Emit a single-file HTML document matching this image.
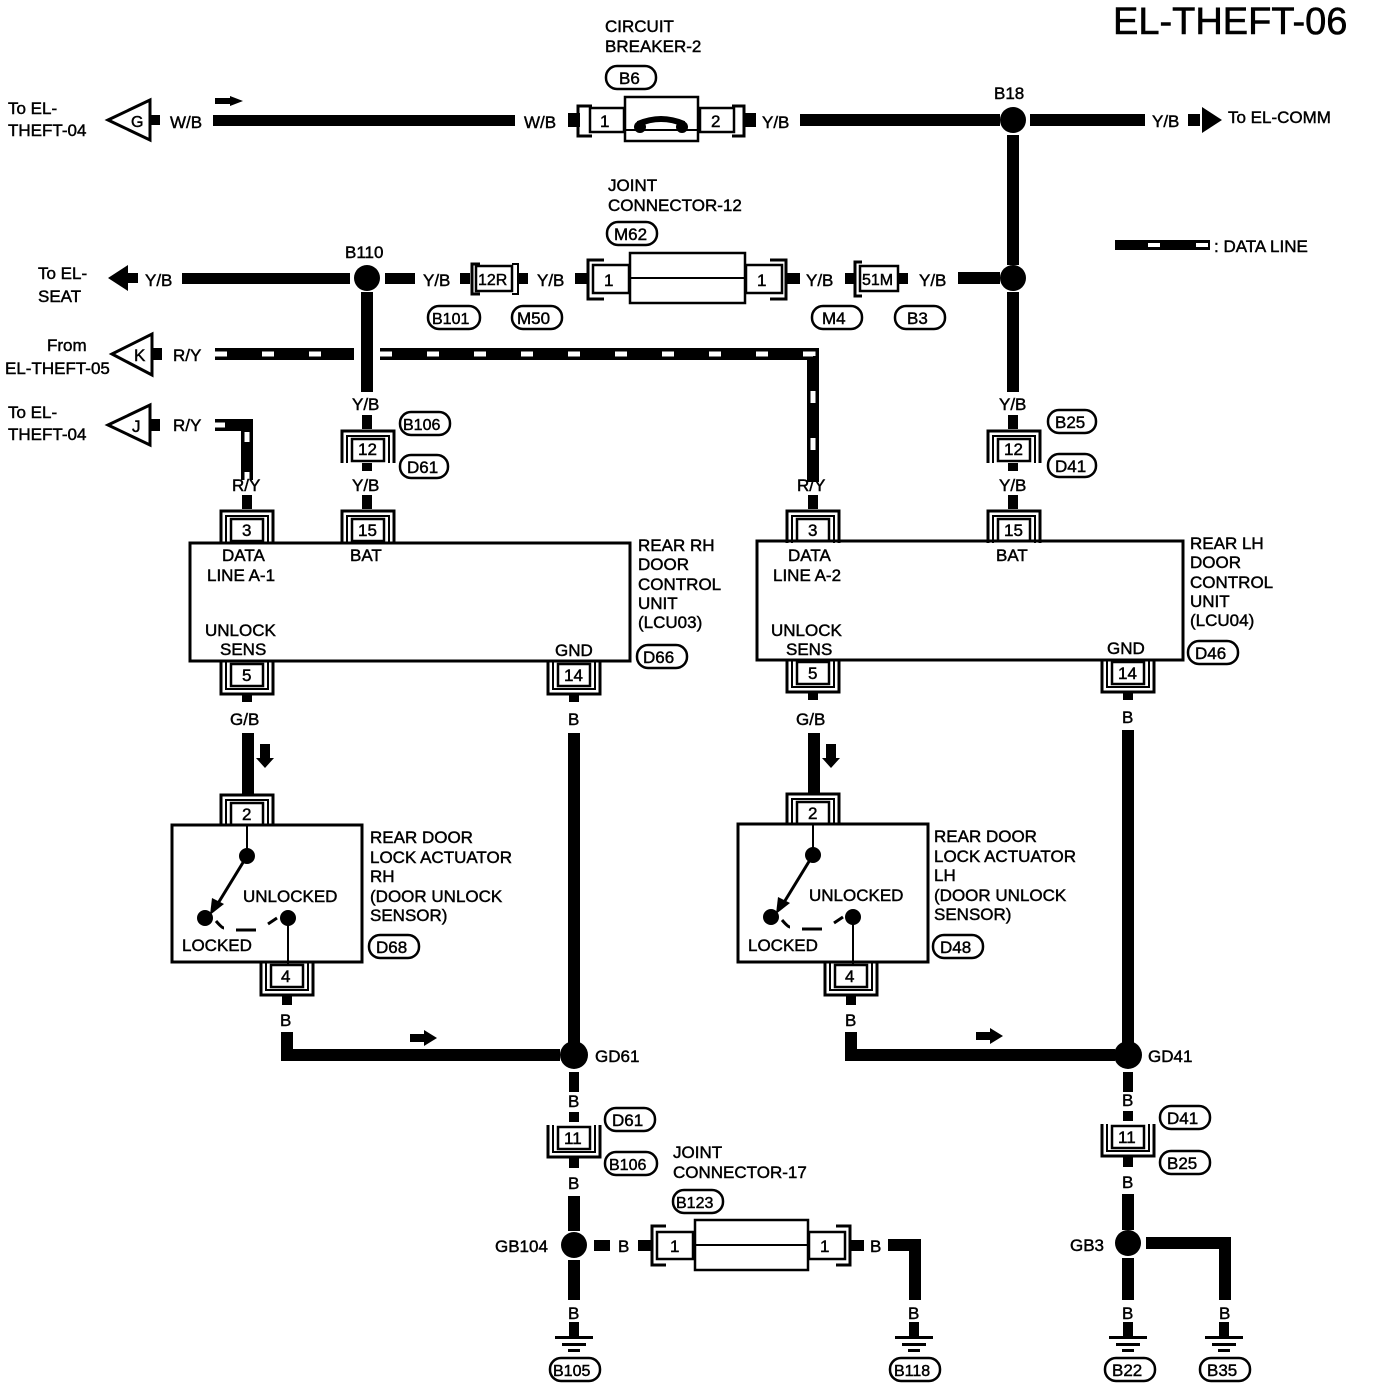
<!DOCTYPE html>
<html><head><meta charset="utf-8"><style>
html,body{margin:0;padding:0;background:#fff;}
svg{display:block;}
text{font-family:"Liberation Sans",sans-serif;font-size:17px;fill:#000;stroke:#000;stroke-width:0.45;}
</style></head><body>
<svg width="1376" height="1390" viewBox="0 0 1376 1390" xmlns="http://www.w3.org/2000/svg">
<defs>
<g id="cd"><path d="M-26,16V-16H26V16" fill="none" stroke="#000" stroke-width="3"/><path d="M-21,16V-11H21V16" fill="none" stroke="#000" stroke-width="2"/><rect x="-16" y="-8" width="32" height="22" fill="#fff" stroke="#000" stroke-width="2.5"/></g>
<g id="cu"><path d="M-26,-16V16H26V-16" fill="none" stroke="#000" stroke-width="3"/><path d="M-21,-16V11H21V-16" fill="none" stroke="#000" stroke-width="2"/><rect x="-16" y="-14" width="32" height="22" fill="#fff" stroke="#000" stroke-width="2.5"/></g>
<g id="gnd"><rect x="-5" y="-14" width="10" height="14"/><rect x="-19" y="0" width="38" height="3"/><rect x="-12" y="7" width="24" height="3"/><rect x="-6" y="13" width="12" height="3"/></g>
</defs>
<text x="1113" y="34" style="font-size:38px;stroke-width:0.6">EL-THEFT-06</text>

<!-- Top row -->
<polygon points="108,120 150,100 150,140" fill="#fff" stroke="#000" stroke-width="3"/>
<text x="131" y="127" style="font-size:16px">G</text>
<rect x="150" y="115" width="10" height="10"/>
<text x="8" y="114">To EL-</text><text x="8" y="136">THEFT-04</text>
<text x="170" y="128">W/B</text>
<rect x="213" y="115" width="302" height="11"/>
<polygon points="243,101 230,96 230,98 215,98 215,104 230,104 230,106"/>
<text x="524" y="128">W/B</text>
<rect x="568" y="113" width="12" height="14"/>
<path d="M592,106H578V136H592" fill="none" stroke="#000" stroke-width="3"/>
<rect x="590" y="108" width="34" height="24" fill="#fff" stroke="#000" stroke-width="2.5"/><text x="600" y="127">1</text>
<rect x="625" y="97" width="73" height="44" fill="#fff" stroke="#000" stroke-width="2.5"/>
<line x1="625" y1="130" x2="698" y2="130" stroke="#000" stroke-width="2"/>
<path d="M638,124 Q661,114 684,124" stroke="#000" stroke-width="6" fill="none"/>
<circle cx="640" cy="127" r="6"/><circle cx="682" cy="127" r="6"/>
<path d="M732,106H744V136H732" fill="none" stroke="#000" stroke-width="3"/>
<rect x="700" y="108" width="34" height="24" fill="#fff" stroke="#000" stroke-width="2.5"/><text x="711" y="127">2</text>
<rect x="744" y="113" width="12" height="14"/>
<text x="762" y="128">Y/B</text>
<rect x="800" y="114" width="200" height="12"/>
<circle cx="1013" cy="120" r="13"/>
<text x="994" y="99">B18</text>
<rect x="1030" y="114" width="115" height="12"/>
<text x="1152" y="127">Y/B</text>
<rect x="1188" y="114" width="12" height="12"/>
<polygon points="1202,107 1222,120 1202,133"/>
<text x="1228" y="123">To EL-COMM</text>
<text x="605" y="32">CIRCUIT</text><text x="605" y="52">BREAKER-2</text>
<rect x="606" y="66" width="50" height="23" rx="11" fill="#fff" stroke="#000" stroke-width="2.5"/><text x="619" y="84">B6</text>

<!-- B18 vertical -->
<rect x="1007" y="135" width="12" height="130"/>
<circle cx="1013" cy="278" r="13"/>
<rect x="1007" y="292" width="12" height="100"/>
<text x="999" y="410">Y/B</text>
<rect x="1008" y="415" width="10" height="14"/>
<use href="#cd" x="1014" y="447"/><text x="1004" y="455">12</text>
<rect x="1008" y="463" width="10" height="8"/>
<rect x="1048" y="410" width="48" height="23" rx="11" fill="#fff" stroke="#000" stroke-width="2.5"/><text x="1055" y="428">B25</text>
<rect x="1048" y="454" width="48" height="23" rx="11" fill="#fff" stroke="#000" stroke-width="2.5"/><text x="1055" y="472">D41</text>
<text x="999" y="491">Y/B</text>
<rect x="1008" y="495" width="10" height="14"/>
<use href="#cd" x="1014" y="527"/><text x="1004" y="536">15</text>

<!-- Row 278 -->
<polygon points="108,278 128,265 128,291"/>
<rect x="128" y="273" width="10" height="10"/>
<text x="38" y="279">To EL-</text><text x="38" y="302">SEAT</text>
<text x="145" y="286">Y/B</text>
<rect x="182" y="273" width="168" height="11"/>
<circle cx="367" cy="278" r="13"/>
<text x="345" y="258">B110</text>
<rect x="385" y="273" width="30" height="11"/>
<text x="423" y="286">Y/B</text>
<rect x="460" y="273" width="10" height="11"/>
<path d="M480,264H472V294H480" fill="none" stroke="#000" stroke-width="3"/>
<rect x="476" y="266" width="36" height="25" fill="#fff" stroke="#000" stroke-width="2.5"/><text x="478" y="285" style="font-size:16px">12R</text>
<path d="M512,264H518V294H512" fill="none" stroke="#000" stroke-width="2"/>
<rect x="518" y="273" width="10" height="11"/>
<text x="537" y="286">Y/B</text>
<rect x="575" y="273" width="14" height="11"/>
<path d="M604,260H588V299H604" fill="none" stroke="#000" stroke-width="3"/>
<rect x="593" y="265" width="36" height="28" fill="#fff" stroke="#000" stroke-width="2.5"/><text x="604" y="286">1</text>
<rect x="630" y="253" width="115" height="50" fill="#fff" stroke="#000" stroke-width="2.5"/>
<line x1="630" y1="278" x2="745" y2="278" stroke="#000" stroke-width="2"/>
<path d="M770,260H786V299H770" fill="none" stroke="#000" stroke-width="3"/>
<rect x="746" y="265" width="36" height="28" fill="#fff" stroke="#000" stroke-width="2.5"/><text x="757" y="286">1</text>
<rect x="786" y="273" width="14" height="11"/>
<text x="806" y="286">Y/B</text>
<rect x="845" y="273" width="10" height="11"/>
<path d="M862,262H855V296H862" fill="none" stroke="#000" stroke-width="3"/>
<rect x="860" y="266" width="38" height="25" fill="#fff" stroke="#000" stroke-width="2.5"/><text x="862" y="285" style="font-size:16px">51M</text>
<rect x="898" y="273" width="10" height="11"/>
<text x="919" y="286">Y/B</text>
<rect x="958" y="272" width="42" height="12"/>
<text x="608" y="191">JOINT</text><text x="608" y="211">CONNECTOR-12</text>
<rect x="607" y="222" width="50" height="23" rx="11" fill="#fff" stroke="#000" stroke-width="2.5"/><text x="614" y="240">M62</text>
<rect x="428" y="306" width="52" height="23" rx="11" fill="#fff" stroke="#000" stroke-width="2.5"/><text x="432" y="324" style="font-size:16px">B101</text>
<rect x="512" y="306" width="50" height="23" rx="11" fill="#fff" stroke="#000" stroke-width="2.5"/><text x="517" y="324">M50</text>
<rect x="812" y="306" width="50" height="23" rx="11" fill="#fff" stroke="#000" stroke-width="2.5"/><text x="822" y="324">M4</text>
<rect x="895" y="306" width="50" height="23" rx="11" fill="#fff" stroke="#000" stroke-width="2.5"/><text x="907" y="324">B3</text>

<!-- B110 vertical -->
<rect x="361" y="292" width="12" height="100"/>
<text x="352" y="410">Y/B</text>
<rect x="362" y="415" width="10" height="14"/>
<use href="#cd" x="368" y="447"/><text x="358" y="455">12</text>
<rect x="362" y="463" width="10" height="8"/>
<rect x="400" y="412" width="50" height="23" rx="11" fill="#fff" stroke="#000" stroke-width="2.5"/><text x="403" y="430" style="font-size:16px">B106</text>
<rect x="400" y="455" width="48" height="23" rx="11" fill="#fff" stroke="#000" stroke-width="2.5"/><text x="407" y="473">D61</text>
<text x="352" y="491">Y/B</text>
<rect x="362" y="495" width="10" height="14"/>
<use href="#cd" x="368" y="527"/><text x="358" y="536">15</text>

<!-- Data lines -->
<polygon points="112,354 152,334 152,375" fill="#fff" stroke="#000" stroke-width="3"/>
<text x="134" y="361">K</text>
<rect x="152" y="348" width="10" height="12"/>
<text x="47" y="351">From</text><text x="5" y="374">EL-THEFT-05</text>
<text x="173" y="361">R/Y</text>
<path d="M215,354H354 M380,354H813V482" fill="none" stroke="#000" stroke-width="12"/>
<path d="M215,354H354 M380,354H813V482" fill="none" stroke="#fff" stroke-width="5" stroke-dasharray="12 35"/>
<polygon points="108,425 150,405 150,445" fill="#fff" stroke="#000" stroke-width="3"/>
<text x="132" y="432">J</text>
<rect x="150" y="419" width="10" height="12"/>
<text x="8" y="418">To EL-</text><text x="8" y="440">THEFT-04</text>
<text x="173" y="431">R/Y</text>
<path d="M215,425H247V480" fill="none" stroke="#000" stroke-width="12"/>
<path d="M215,425H245 M247,432V480" fill="none" stroke="#fff" stroke-width="5" stroke-dasharray="10 30"/>
<rect x="1115" y="240" width="95" height="10"/>
<rect x="1148" y="243" width="12" height="4" fill="#fff"/><rect x="1196" y="243" width="12" height="4" fill="#fff"/>
<text x="1214" y="252">: DATA LINE</text>

<!-- RH unit -->
<text x="232" y="491">R/Y</text>
<rect x="242" y="495" width="10" height="14"/>
<use href="#cd" x="247" y="527"/><text x="242" y="536">3</text>
<rect x="190" y="543" width="440" height="118" fill="none" stroke="#000" stroke-width="3"/>
<text x="222" y="561">DATA</text><text x="207" y="581">LINE A-1</text>
<text x="350" y="561">BAT</text>
<text x="205" y="636">UNLOCK</text><text x="220" y="655">SENS</text>
<text x="555" y="656">GND</text>
<text x="638" y="551">REAR RH</text><text x="638" y="570">DOOR</text><text x="638" y="590">CONTROL</text><text x="638" y="609">UNIT</text><text x="638" y="628">(LCU03)</text>
<rect x="637" y="645" width="50" height="23" rx="11" fill="#fff" stroke="#000" stroke-width="2.5"/><text x="643" y="663">D66</text>
<use href="#cu" x="247" y="678"/><text x="242" y="681">5</text>
<use href="#cu" x="574" y="678"/><text x="564" y="681">14</text>
<rect x="242" y="694" width="10" height="8"/><rect x="569" y="694" width="10" height="8"/>
<text x="230" y="725">G/B</text><text x="568" y="725">B</text>
<rect x="242" y="733" width="12" height="62"/>
<polygon points="260,744 260,758 256,758 265,768 274,758 270,758 270,744"/>
<rect x="568" y="733" width="12" height="310"/>
<use href="#cd" x="247" y="811"/><text x="242" y="820">2</text>
<rect x="172" y="825" width="190" height="137" fill="#fff" stroke="#000" stroke-width="3"/>
<line x1="247" y1="825" x2="247" y2="856" stroke="#000" stroke-width="2"/>
<circle cx="247" cy="856" r="8"/>
<line x1="247" y1="856" x2="217" y2="905" stroke="#000" stroke-width="3"/>
<polygon points="210,915 212,898 224,904"/>
<circle cx="205" cy="918" r="8"/><circle cx="288" cy="918" r="8"/>
<path d="M216,921 Q222,928 224,928 M236,930H256 M268,924L277,918" fill="none" stroke="#000" stroke-width="3"/>
<line x1="288" y1="918" x2="288" y2="965" stroke="#000" stroke-width="2"/>
<text x="243" y="902">UNLOCKED</text><text x="182" y="951">LOCKED</text>
<text x="370" y="843">REAR DOOR</text><text x="370" y="863">LOCK ACTUATOR</text><text x="370" y="882">RH</text><text x="370" y="902">(DOOR UNLOCK</text><text x="370" y="921"> SENSOR)</text>
<rect x="369" y="935" width="50" height="23" rx="11" fill="#fff" stroke="#000" stroke-width="2.5"/><text x="376" y="953">D68</text>
<use href="#cu" x="287" y="979"/><text x="281" y="982">4</text>
<rect x="282" y="995" width="10" height="10"/>
<text x="280" y="1026">B</text>
<path d="M287,1032V1055H560" fill="none" stroke="#000" stroke-width="12"/>
<polygon points="410,1034 424,1034 424,1030 437,1038 424,1046 424,1042 410,1042"/>
<circle cx="574" cy="1055" r="14"/>
<text x="595" y="1062">GD61</text>
<rect x="569" y="1072" width="10" height="20"/>
<text x="568" y="1107">B</text>
<rect x="569" y="1112" width="10" height="10"/>
<use href="#cu" x="574" y="1141"/><text x="564" y="1144">11</text>
<rect x="605" y="1108" width="50" height="23" rx="11" fill="#fff" stroke="#000" stroke-width="2.5"/><text x="612" y="1126">D61</text>
<rect x="605" y="1152" width="52" height="23" rx="11" fill="#fff" stroke="#000" stroke-width="2.5"/><text x="609" y="1170" style="font-size:16px">B106</text>
<rect x="569" y="1158" width="10" height="10"/>
<text x="568" y="1189">B</text>
<rect x="568" y="1196" width="12" height="35"/>
<circle cx="574" cy="1245" r="13"/>
<text x="495" y="1252">GB104</text>
<rect x="594" y="1240" width="16" height="11"/>
<text x="618" y="1252">B</text>
<rect x="638" y="1240" width="14" height="11"/>
<path d="M666,1226H652V1265H666" fill="none" stroke="#000" stroke-width="3"/>
<rect x="657" y="1232" width="36" height="27" fill="#fff" stroke="#000" stroke-width="2.5"/><text x="670" y="1252">1</text>
<rect x="695" y="1220" width="113" height="50" fill="#fff" stroke="#000" stroke-width="2.5"/>
<line x1="695" y1="1245" x2="808" y2="1245" stroke="#000" stroke-width="2"/>
<path d="M836,1226H850V1265H836" fill="none" stroke="#000" stroke-width="3"/>
<rect x="809" y="1232" width="36" height="27" fill="#fff" stroke="#000" stroke-width="2.5"/><text x="820" y="1252">1</text>
<rect x="850" y="1240" width="14" height="11"/>
<text x="870" y="1252">B</text>
<path d="M888,1245H915V1300" fill="none" stroke="#000" stroke-width="12"/>
<text x="908" y="1319">B</text>
<use href="#gnd" x="914" y="1336"/>
<rect x="890" y="1358" width="50" height="23" rx="11" fill="#fff" stroke="#000" stroke-width="2.5"/><text x="894" y="1376" style="font-size:16px">B118</text>
<text x="673" y="1158">JOINT</text><text x="673" y="1178">CONNECTOR-17</text>
<rect x="673" y="1190" width="50" height="23" rx="11" fill="#fff" stroke="#000" stroke-width="2.5"/><text x="676" y="1208" style="font-size:16px">B123</text>
<rect x="568" y="1260" width="12" height="40"/>
<text x="568" y="1319">B</text>
<use href="#gnd" x="574" y="1336"/>
<rect x="550" y="1358" width="50" height="23" rx="11" fill="#fff" stroke="#000" stroke-width="2.5"/><text x="553" y="1376" style="font-size:16px">B105</text>

<!-- LH unit -->
<text x="797" y="491">R/Y</text>
<rect x="808" y="495" width="10" height="14"/>
<use href="#cd" x="813" y="527"/><text x="808" y="536">3</text>
<rect x="757" y="541" width="426" height="119" fill="none" stroke="#000" stroke-width="3"/>
<text x="788" y="561">DATA</text><text x="773" y="581">LINE A-2</text>
<text x="996" y="561">BAT</text>
<text x="771" y="636">UNLOCK</text><text x="786" y="655">SENS</text>
<text x="1107" y="654">GND</text>
<text x="1190" y="549">REAR LH</text><text x="1190" y="568">DOOR</text><text x="1190" y="588">CONTROL</text><text x="1190" y="607">UNIT</text><text x="1190" y="626">(LCU04)</text>
<rect x="1188" y="641" width="50" height="23" rx="11" fill="#fff" stroke="#000" stroke-width="2.5"/><text x="1195" y="659">D46</text>
<use href="#cu" x="813" y="676"/><text x="808" y="679">5</text>
<use href="#cu" x="1128" y="676"/><text x="1118" y="679">14</text>
<rect x="808" y="692" width="10" height="8"/><rect x="1123" y="692" width="10" height="8"/>
<text x="796" y="725">G/B</text><text x="1122" y="723">B</text>
<rect x="808" y="733" width="12" height="62"/>
<polygon points="826,744 826,758 822,758 831,768 840,758 836,758 836,744"/>
<rect x="1122" y="730" width="12" height="313"/>
<use href="#cd" x="813" y="810"/><text x="808" y="819">2</text>
<rect x="738" y="824" width="190" height="138" fill="#fff" stroke="#000" stroke-width="3"/>
<line x1="813" y1="824" x2="813" y2="855" stroke="#000" stroke-width="2"/>
<circle cx="813" cy="855" r="8"/>
<line x1="813" y1="855" x2="783" y2="904" stroke="#000" stroke-width="3"/>
<polygon points="776,914 778,897 790,903"/>
<circle cx="771" cy="917" r="8"/><circle cx="853" cy="917" r="8"/>
<path d="M782,920 Q788,927 790,927 M802,929H822 M834,923L843,917" fill="none" stroke="#000" stroke-width="3"/>
<line x1="853" y1="917" x2="853" y2="965" stroke="#000" stroke-width="2"/>
<text x="809" y="901">UNLOCKED</text><text x="748" y="951">LOCKED</text>
<text x="934" y="842">REAR DOOR</text><text x="934" y="862">LOCK ACTUATOR</text><text x="934" y="881">LH</text><text x="934" y="901">(DOOR UNLOCK</text><text x="934" y="920"> SENSOR)</text>
<rect x="933" y="935" width="50" height="23" rx="11" fill="#fff" stroke="#000" stroke-width="2.5"/><text x="940" y="953">D48</text>
<use href="#cu" x="851" y="979"/><text x="845" y="982">4</text>
<rect x="846" y="995" width="10" height="10"/>
<text x="845" y="1026">B</text>
<path d="M851,1032V1055H1115" fill="none" stroke="#000" stroke-width="12"/>
<polygon points="976,1032 990,1032 990,1028 1003,1036 990,1044 990,1040 976,1040"/>
<circle cx="1128" cy="1055" r="14"/>
<text x="1148" y="1062">GD41</text>
<rect x="1123" y="1072" width="10" height="20"/>
<text x="1122" y="1106">B</text>
<rect x="1123" y="1111" width="10" height="10"/>
<use href="#cu" x="1128" y="1140"/><text x="1118" y="1143">11</text>
<rect x="1160" y="1106" width="50" height="23" rx="11" fill="#fff" stroke="#000" stroke-width="2.5"/><text x="1167" y="1124">D41</text>
<rect x="1160" y="1151" width="50" height="23" rx="11" fill="#fff" stroke="#000" stroke-width="2.5"/><text x="1167" y="1169">B25</text>
<rect x="1123" y="1157" width="10" height="10"/>
<text x="1122" y="1188">B</text>
<rect x="1122" y="1194" width="12" height="36"/>
<circle cx="1128" cy="1243" r="13"/>
<text x="1070" y="1251">GB3</text>
<path d="M1146,1243H1225V1300" fill="none" stroke="#000" stroke-width="12"/>
<rect x="1122" y="1258" width="12" height="42"/>
<text x="1122" y="1319">B</text><text x="1219" y="1319">B</text>
<use href="#gnd" x="1128" y="1336"/><use href="#gnd" x="1224" y="1336"/>
<rect x="1105" y="1358" width="50" height="23" rx="11" fill="#fff" stroke="#000" stroke-width="2.5"/><text x="1112" y="1376">B22</text>
<rect x="1200" y="1358" width="50" height="23" rx="11" fill="#fff" stroke="#000" stroke-width="2.5"/><text x="1207" y="1376">B35</text>
</svg>
</body></html>
